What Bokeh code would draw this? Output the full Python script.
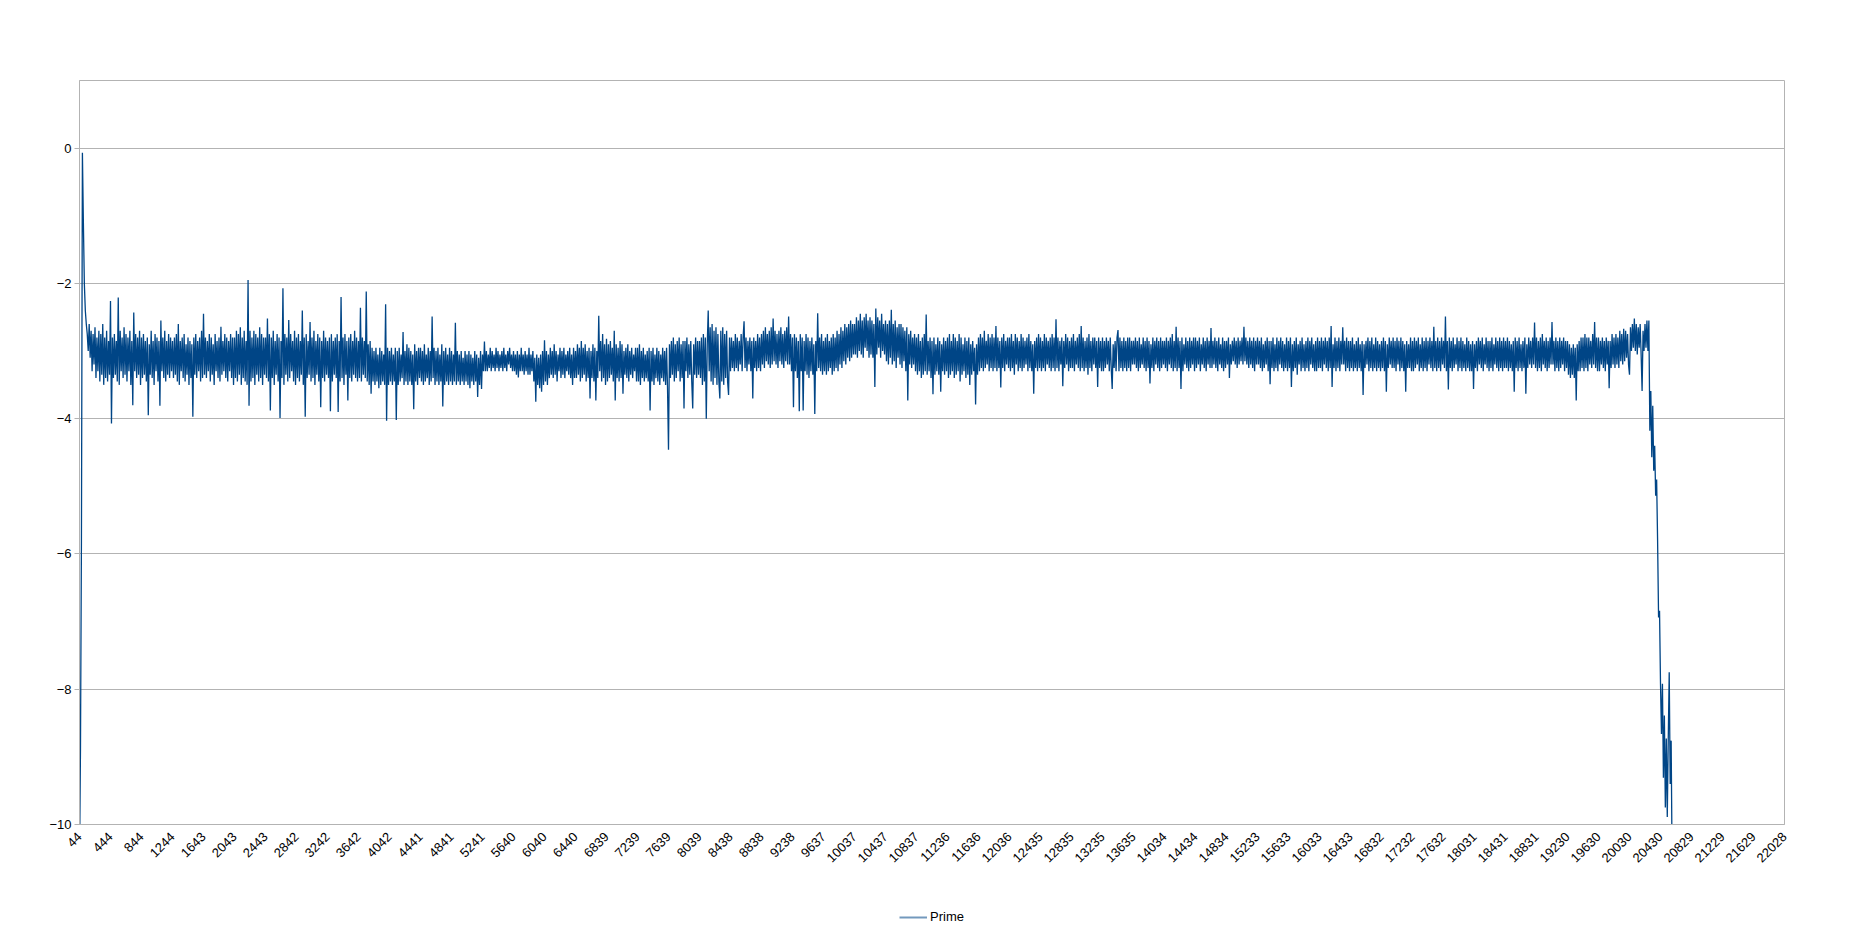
from math import pi
from bokeh.plotting import figure
from bokeh.layouts import column
from bokeh.models import FixedTicker, Range1d, Legend, LegendItem
from bokeh.embed import file_html
from bokeh.resources import INLINE

# category labels shown on the x axis (one every 400 categories)
x_labels = ["44", "444", "844", "1244", "1643", "2043", "2443", "2842", "3242", "3642",
            "4042", "4441", "4841", "5241", "5640", "6040", "6440", "6839", "7239", "7639",
            "8039", "8438", "8838", "9238", "9637", "10037", "10437", "10837", "11236", "11636",
            "12036", "12435", "12835", "13235", "13635", "14034", "14434", "14834", "15233", "15633",
            "16033", "16433", "16832", "17232", "17632", "18031", "18431", "18831", "19230", "19630",
            "20030", "20430", "20829", "21229", "21629", "22028"]
label_every = 400       # categories between two axis labels
sample_every = 12.5     # categories between two read-off values
y_ticks = [-10, -8, -6, -4, -2, 0]
series_name = "Prime"

# "Prime" series (one value every 12.5 categories)
prime_a = [
    -10.6, -8.9, -5.8, -0.07, -1.1, -2.0, -2.4, -2.6, -2.75, -3.0, -2.6, -3.1, -2.7, -3.3, -2.75, -3.2,
    -2.65, -3.4, -2.8, -3.3, -2.7, -3.45, -2.75, -3.35, -2.6, -3.5, -2.8, -3.4, -2.7, -3.45, -2.85, -3.35,
    -2.26, -4.07, -2.8, -3.4, -2.75, -3.35, -2.85, -3.45, -2.21, -3.5, -2.7, -3.3, -2.8, -3.4, -2.65, -3.35,
    -2.75, -3.45, -2.8, -3.3, -2.7, -3.5, -2.85, -3.8, -2.43, -3.3, -2.75, -3.4, -2.8, -3.35, -2.7, -3.5,
    -2.8, -3.4, -2.75, -3.35, -2.85, -3.45, -2.8, -3.95, -2.9, -3.35, -2.7, -3.4, -2.85, -3.5, -2.75, -3.3,
    -2.8, -3.45, -2.85, -3.81, -2.55, -3.3, -2.8, -3.4, -2.7, -3.45, -2.85, -3.35, -2.75, -3.4, -2.8, -3.3,
    -2.85, -3.4, -2.8, -3.35, -2.75, -3.45, -2.6, -3.5, -2.85, -3.3, -2.8, -3.4, -2.75, -3.45, -2.9, -3.35,
    -2.8, -3.5, -2.85, -3.4, -2.9, -3.97, -2.8, -3.35, -2.75, -3.4, -2.85, -3.3, -2.8, -3.45, -2.7, -3.4,
    -2.45, -3.35, -2.8, -3.4, -2.85, -3.3, -2.75, -3.45, -2.8, -3.35, -2.9, -3.5, -2.75, -3.3, -2.85, -3.4,
    -2.8, -3.45, -2.64, -3.35, -2.85, -3.3, -2.75, -3.4, -2.8, -3.45, -2.85, -3.3, -2.75, -3.4, -2.8, -3.5,
    -2.8, -3.4, -2.7, -3.45, -2.75, -3.35, -2.65, -3.5, -2.8, -3.4, -2.7, -3.45, -2.85, -3.5, -1.95, -3.81,
    -2.7, -3.45, -2.8, -3.4, -2.7, -3.5, -2.75, -3.35, -2.8, -3.45, -2.65, -3.4, -2.75, -3.5, -2.8, -3.35,
    -2.8, -3.4, -2.52, -3.45, -2.75, -3.88, -2.8, -3.4, -2.7, -3.5, -2.85, -3.35, -2.75, -3.45, -2.8, -3.99,
    -2.85, -3.4, -2.07, -3.5, -2.75, -3.35, -2.8, -3.45, -2.54, -3.4, -2.75, -3.3, -2.85, -3.45, -2.7, -3.5,
    -2.8, -3.4, -2.75, -3.45, -2.85, -3.35, -2.4, -3.5, -2.8, -3.97, -2.75, -3.4, -2.85, -3.35, -2.57, -3.45,
    -2.8, -3.4, -2.7, -3.5, -2.85, -3.35, -2.75, -3.45, -2.8, -3.83, -2.85, -3.4, -2.7, -3.45, -2.8, -3.35,
    -2.85, -3.4, -2.8, -3.89, -2.75, -3.45, -2.85, -3.35, -2.8, -3.4, -2.75, -3.9, -2.85, -3.45, -2.2, -3.4,
    -2.8, -3.5, -2.75, -3.35, -2.85, -3.73, -2.8, -3.4, -2.75, -3.45, -2.85, -3.35, -2.7, -3.4, -2.8, -3.45,
    -2.85, -3.4, -2.36, -3.45, -2.8, -3.35, -2.85, -3.4, -2.12, -3.45, -2.9, -3.5, -2.85, -3.63, -2.95, -3.45,
    -3.0, -3.5, -2.95, -3.45, -3.05, -3.55, -2.95, -3.5, -3.0, -3.45, -3.05, -3.5, -2.31, -4.03, -2.95, -3.5,
    -3.0, -3.45, -2.95, -3.5, -3.05, -3.45, -2.95, -4.02, -3.0, -3.5, -2.95, -3.45, -3.05, -3.4, -2.72, -3.5,
    -3.0, -3.45, -2.9, -3.5, -2.95, -3.45, -3.0, -3.5, -3.05, -3.86, -2.9, -3.45, -3.0, -3.5, -2.95, -3.4,
    -2.95, -3.45, -3.0, -3.5, -2.9, -3.45, -3.05, -3.4, -2.95, -3.5, -3.0, -3.45, -2.49, -3.4, -2.95, -3.5,
    -3.0, -3.45, -2.95, -3.5, -3.05, -3.45, -2.9, -3.82, -3.0, -3.5, -2.95, -3.45, -3.05, -3.5, -2.95, -3.45,
    -3.0, -3.5, -3.05, -3.45, -2.58, -3.5, -3.0, -3.45, -3.05, -3.5, -3.0, -3.45, -3.1, -3.5, -3.0, -3.45,
    -3.05, -3.5, -3.0, -3.55, -3.05, -3.45, -3.1, -3.5, -3.0, -3.45, -3.05, -3.68, -3.1, -3.5, -3.0, -3.56,
]
prime_b = [
    -3.05, -3.3, -2.86, -3.3, -3.0, -3.3, -3.05, -3.25, -2.95, -3.3, -3.0, -3.25, -3.05, -3.3, -2.95, -3.25,
    -3.0, -3.3, -3.05, -3.25, -3.0, -3.3, -2.95, -3.25, -3.05, -3.3, -3.0, -3.2, -2.95, -3.25, -3.05, -3.3,
    -3.0, -3.3, -3.05, -3.35, -3.0, -3.39, -3.05, -3.3, -2.95, -3.3, -3.05, -3.35, -3.0, -3.3, -3.05, -3.35,
    -2.95, -3.35, -3.05, -3.3, -3.0, -3.45, -3.1, -3.75, -3.05, -3.5, -3.1, -3.55, -3.05, -3.6, -3.0, -3.5,
    -2.84, -3.45, -3.0, -3.5, -3.05, -3.4, -2.95, -3.35, -3.0, -3.4, -2.9, -3.35, -3.0, -3.45, -3.05, -3.3,
    -2.95, -3.4, -3.0, -3.35, -2.95, -3.4, -3.05, -3.3, -3.0, -3.35, -2.95, -3.4, -3.05, -3.5, -2.95, -3.4,
    -3.0, -3.4, -2.9, -3.35, -2.95, -3.45, -2.85, -3.4, -2.95, -3.35, -2.9, -3.45, -3.0, -3.4, -2.95, -3.7,
    -3.0, -3.4, -2.9, -3.45, -2.95, -3.73, -3.0, -3.4, -2.48, -3.3, -2.85, -3.45, -2.75, -3.4, -2.9, -3.5,
    -2.82, -3.45, -2.9, -3.4, -2.85, -3.35, -2.95, -3.45, -2.7, -3.73, -2.9, -3.4, -2.95, -3.45, -2.85, -3.4,
    -2.9, -3.63, -3.0, -3.35, -2.95, -3.4, -2.9, -3.45, -3.0, -3.35, -2.95, -3.4, -3.05, -3.3, -2.95, -3.45,
    -2.95, -3.45, -2.9, -3.5, -3.0, -3.4, -2.95, -3.45, -3.05, -3.4, -3.0, -3.45, -2.95, -3.88, -3.0, -3.45,
    -2.95, -3.5, -3.05, -3.4, -2.95, -3.45, -3.0, -3.5, -3.05, -3.4, -2.95, -3.45, -3.0, -3.5, -2.95, -3.55,
    -4.46, -2.9, -3.4, -2.85, -3.35, -2.8, -3.45, -2.9, -3.4, -2.85, -3.3, -2.8, -3.45, -2.9, -3.4, -2.85,
    -3.85, -2.85, -3.3, -2.8, -3.4, -2.9, -3.35, -2.85, -3.45, -3.85, -2.9, -3.35, -2.8, -3.4, -2.85, -3.35,
    -2.85, -3.4, -2.8, -3.5, -2.75, -3.45, -2.8, -4.0, -2.9, -2.4, -3.3, -2.65, -3.45, -2.6, -3.5, -2.7,
    -3.4, -2.65, -3.5, -2.75, -3.45, -3.7, -2.7, -3.45, -2.65, -3.5, -2.75, -3.4, -2.7, -3.45, -3.65, -2.8,
    -3.3, -2.8, -3.25, -2.85, -3.3, -2.75, -3.25, -2.8, -3.3, -2.85, -3.2, -2.75, -3.3, -2.8, -2.56, -3.25,
    -2.8, -3.3, -2.85, -3.2, -2.8, -3.3, -2.85, -3.7, -2.8, -3.25, -2.85, -3.3, -2.75, -3.25, -2.8, -3.3,
    -2.75, -3.2, -2.7, -3.25, -2.65, -3.15, -2.75, -3.2, -2.7, -3.25, -2.65, -3.2, -2.52, -3.15, -2.7, -3.2,
    -2.75, -3.25, -2.7, -3.15, -2.65, -3.2, -2.75, -3.25, -2.7, -3.15, -2.65, -3.2, -2.49, -3.2, -2.75, -3.3,
    -2.8, -3.83, -2.75, -3.3, -2.8, -3.4, -2.85, -3.89, -2.75, -3.3, -2.8, -3.88, -2.85, -3.3, -2.75, -3.35,
    -2.8, -3.4, -2.85, -3.3, -2.8, -3.35, -2.9, -3.93, -2.85, -3.3, -2.44, -3.25, -2.8, -3.3, -2.75, -3.35,
    -2.85, -3.3, -2.8, -3.35, -2.75, -3.3, -2.85, -3.25, -2.8, -3.35, -2.75, -3.3, -2.8, -3.25, -2.7, -3.3,
    -2.75, -3.2, -2.65, -3.25, -2.7, -3.15, -2.6, -3.2, -2.65, -3.1, -2.6, -3.15, -2.55, -3.1, -2.6, -3.05,
    -2.6, -3.05, -2.5, -3.1, -2.55, -3.0, -2.45, -3.05, -2.55, -3.1, -2.5, -2.95, -2.45, -3.0, -2.55, -3.1,
    -2.5, -3.05, -2.55, -3.1, -2.6, -3.53, -2.37, -3.05, -2.5, -2.95, -2.55, -3.1, -2.45, -3.0, -2.6, -3.05,
]
prime_c = [
    -2.55, -3.15, -2.6, -3.2, -2.55, -3.1, -2.39, -3.2, -2.6, -3.15, -2.55, -3.25, -2.65, -3.1, -2.6, -3.2,
    -2.6, -3.25, -2.65, -3.15, -2.7, -3.3, -2.65, -3.73, -2.75, -3.2, -2.7, -3.25, -2.8, -3.2, -2.75, -3.3,
    -2.8, -3.35, -2.75, -3.3, -2.85, -3.4, -2.8, -3.35, -2.75, -3.3, -2.46, -3.35, -2.85, -3.3, -2.8, -3.4,
    -2.85, -3.64, -2.8, -3.35, -2.9, -3.3, -2.8, -3.35, -2.85, -3.6, -2.9, -3.3, -2.8, -3.35, -2.85, -3.3,
    -2.8, -3.4, -2.75, -3.35, -2.85, -3.3, -2.75, -3.4, -2.8, -3.35, -2.85, -3.3, -2.75, -3.45, -2.8, -3.35,
    -2.9, -3.3, -2.8, -3.4, -2.85, -3.35, -2.8, -3.5, -2.9, -3.35, -2.85, -3.3, -2.95, -3.79, -2.9, -3.35,
    -2.8, -3.3, -2.75, -3.25, -2.8, -3.3, -2.7, -3.25, -2.85, -3.2, -2.75, -3.3, -2.8, -3.25, -2.75, -3.3,
    -2.8, -3.25, -2.63, -3.3, -2.8, -3.25, -2.85, -3.54, -2.8, -3.25, -2.75, -3.3, -2.85, -3.2, -2.8, -3.25,
    -2.8, -3.3, -2.75, -3.25, -2.85, -3.35, -2.75, -3.2, -2.8, -3.3, -2.85, -3.25, -2.75, -3.3, -2.8, -3.25,
    -2.85, -3.2, -2.8, -3.3, -2.75, -3.25, -2.85, -3.3, -2.9, -3.63, -2.85, -3.25, -2.8, -3.3, -2.75, -3.25,
    -2.8, -3.3, -2.85, -3.25, -2.75, -3.3, -2.8, -3.2, -2.85, -3.25, -2.8, -3.3, -2.75, -3.25, -2.8, -3.3,
    -2.53, -3.25, -2.8, -3.3, -2.85, -3.2, -2.8, -3.52, -2.85, -3.25, -2.75, -3.2, -2.8, -3.3, -2.85, -3.25,
    -2.8, -3.25, -2.75, -3.3, -2.85, -3.2, -2.8, -3.25, -2.75, -3.3, -2.63, -3.25, -2.8, -3.3, -2.85, -3.25,
    -2.8, -3.35, -2.75, -3.25, -2.85, -3.3, -2.8, -3.2, -2.8, -3.25, -2.85, -3.53, -2.8, -3.25, -2.85, -3.3,
    -2.8, -3.3, -2.85, -3.25, -2.8, -3.2, -2.85, -3.3, -2.8, -3.25, -3.56, -2.9, -3.25, -2.85, -3.3, -2.8,
    -2.69, -3.3, -2.8, -3.25, -2.85, -3.3, -2.8, -3.25, -2.85, -3.3, -2.8, -3.25, -2.8, -3.3, -2.85, -3.2,
    -2.85, -3.2, -2.8, -3.25, -2.85, -3.3, -2.8, -3.25, -2.9, -3.2, -2.8, -3.25, -2.85, -3.3, -2.8, -3.25,
    -2.85, -3.48, -2.9, -3.25, -2.8, -3.3, -2.85, -3.2, -2.8, -3.25, -2.85, -3.3, -2.8, -3.25, -2.85, -3.2,
    -2.85, -3.25, -2.8, -3.3, -2.85, -3.2, -2.8, -3.25, -2.75, -3.3, -2.85, -3.25, -2.64, -3.3, -2.8, -3.25,
    -2.85, -3.56, -2.8, -3.3, -2.9, -3.2, -2.8, -3.25, -2.85, -3.3, -2.8, -3.25, -2.85, -3.2, -2.8, -3.3,
    -2.8, -3.25, -2.85, -3.2, -2.8, -3.3, -2.9, -3.2, -2.8, -3.25, -2.85, -3.3, -2.8, -3.2, -2.85, -3.25,
    -2.66, -3.25, -2.85, -3.2, -2.8, -3.25, -2.85, -3.3, -2.8, -3.2, -2.9, -3.25, -2.8, -3.3, -2.85, -3.25,
    -2.85, -3.2, -2.8, -3.4, -2.9, -3.2, -2.85, -3.15, -2.8, -3.2, -2.85, -3.25, -2.8, -3.2, -2.85, -3.15,
    -2.8, -3.2, -2.64, -3.15, -2.8, -3.2, -2.85, -3.25, -2.8, -3.2, -2.85, -3.25, -2.8, -3.3, -2.85, -3.2,
    -2.8, -3.2, -2.85, -3.25, -2.8, -3.3, -2.9, -3.25, -2.85, -3.2, -2.8, -3.3, -2.85, -3.49, -2.85, -3.25,
    -2.8, -3.3, -2.9, -3.25, -2.8, -3.3, -2.85, -3.2, -2.8, -3.25, -2.85, -3.3, -2.9, -3.25, -2.8, -3.3,
]
prime_d = [
    -2.85, -3.25, -2.8, -3.53, -2.9, -3.3, -2.85, -3.25, -2.8, -3.35, -2.9, -3.2, -2.85, -3.3, -2.8, -3.25,
    -2.9, -3.3, -2.85, -3.25, -2.8, -3.3, -2.85, -3.2, -2.8, -3.25, -2.9, -3.3, -2.85, -3.3, -2.8, -3.25,
    -2.85, -3.25, -2.8, -3.3, -2.85, -3.2, -2.8, -3.25, -2.85, -3.3, -2.8, -3.25, -2.63, -3.53, -2.9, -3.25,
    -2.8, -3.3, -2.85, -3.25, -2.8, -3.3, -2.85, -3.2, -2.65, -3.2, -2.85, -3.3, -2.8, -3.25, -2.85, -3.3,
    -2.85, -3.25, -2.8, -3.3, -2.9, -3.25, -2.85, -3.3, -2.8, -3.25, -2.9, -3.3, -2.85, -3.65, -2.9, -3.25,
    -2.85, -3.2, -2.8, -3.3, -2.85, -3.25, -2.8, -3.3, -2.9, -3.25, -2.8, -3.3, -2.85, -3.25, -2.9, -3.3,
    -2.85, -3.25, -2.8, -3.3, -2.85, -3.6, -2.9, -3.25, -2.8, -3.2, -2.85, -3.25, -2.8, -3.25, -2.85, -3.3,
    -2.8, -3.2, -2.85, -3.3, -2.8, -3.25, -2.85, -3.3, -2.9, -3.6, -2.85, -3.25, -2.9, -3.25, -2.8, -3.3,
    -2.85, -3.3, -2.8, -3.25, -2.85, -3.2, -2.8, -3.3, -2.9, -3.25, -2.8, -3.3, -2.85, -3.25, -2.8, -3.3,
    -2.85, -3.2, -2.8, -3.25, -2.85, -3.3, -2.64, -3.25, -2.85, -3.3, -2.8, -3.25, -2.85, -3.3, -2.8, -3.2,
    -2.85, -3.25, -2.49, -3.3, -2.85, -3.57, -2.8, -3.25, -2.85, -3.3, -2.8, -3.25, -2.9, -3.2, -2.8, -3.3,
    -2.85, -3.25, -2.8, -3.3, -2.85, -3.25, -2.9, -3.3, -2.8, -3.25, -2.85, -3.3, -2.9, -3.3, -2.85, -3.56,
    -2.9, -3.25, -2.85, -3.3, -2.8, -3.2, -2.85, -3.25, -2.8, -3.3, -2.9, -3.2, -2.8, -3.25, -2.85, -3.3,
    -2.85, -3.25, -2.8, -3.3, -2.9, -3.2, -2.8, -3.25, -2.85, -3.3, -2.8, -3.25, -2.85, -3.3, -2.8, -3.25,
    -2.85, -3.25, -2.8, -3.3, -2.85, -3.25, -2.9, -3.3, -2.85, -3.6, -2.8, -3.25, -2.85, -3.3, -2.8, -3.25,
    -2.9, -3.3, -2.85, -3.25, -2.8, -3.63, -2.9, -3.25, -2.8, -3.2, -2.85, -3.25, -2.8, -3.2, -2.58, -3.25,
    -2.8, -3.3, -2.85, -3.25, -2.8, -3.3, -2.75, -3.2, -2.85, -3.25, -2.8, -3.3, -2.85, -3.25, -2.8, -3.2,
    -2.57, -3.2, -2.85, -3.3, -2.8, -3.25, -2.85, -3.3, -2.8, -3.25, -2.85, -3.2, -2.8, -3.3, -2.85, -3.25,
    -2.85, -3.35, -2.9, -3.4, -2.95, -3.35, -2.9, -3.4, -2.95, -3.73, -2.9, -3.3, -2.85, -3.3, -2.8, -3.25,
    -2.8, -3.3, -2.75, -3.25, -2.8, -3.3, -2.8, -3.2, -2.85, -3.25, -2.75, -3.2, -2.57, -3.25, -2.8, -3.3,
    -2.8, -3.3, -2.85, -3.2, -2.8, -3.25, -2.85, -3.3, -2.8, -3.2, -2.85, -3.55, -2.85, -3.25, -2.75, -3.2,
    -2.8, -3.25, -2.75, -3.2, -2.8, -3.25, -2.7, -3.15, -2.75, -3.2, -2.67, -3.15, -2.7, -3.1, -2.75, -3.2,
]
prime_e = [
    -3.35, -2.65, -3.0, -2.6, -2.95, -2.52, -3.0, -2.6, -3.05, -2.65, -2.95, -2.6, -3.05, -3.59, -2.7, -3.0,
    -2.6, -2.95, -2.55, -3.0, -2.55, -4.18, -3.59, -4.57, -3.81, -4.77, -4.4, -5.14, -4.9, -5.8, -6.94, -6.84,
    -7.92, -8.66, -7.92, -9.31, -8.39, -9.75, -8.73, -9.89, -8.74, -7.75, -9.4, -8.76, -10.6,
]

prime = prime_a + prime_b + prime_c + prime_d + prime_e
category = [i * sample_every for i in range(len(prime))]

FONT = "Liberation Sans"
GRID = "#b3b3b3"
LINE = "#004586"
x_span = Range1d(0, label_every * (len(x_labels) - 1))

p = figure(frame_width=1705, frame_height=744,
           min_border_left=79, min_border_right=61, min_border_top=80, min_border_bottom=80,
           x_range=x_span, y_range=Range1d(-10, 1),
           output_backend="svg", toolbar_location=None,
           background_fill_color="white", border_fill_color="white")

p.line(category, prime, line_color=LINE, line_width=1.3)

p.outline_line_color = GRID
p.outline_line_width = 1

# y axis
p.yaxis.ticker = FixedTicker(ticks=y_ticks)
p.yaxis.axis_line_color = GRID
p.yaxis.major_tick_line_color = GRID
p.yaxis.major_tick_out = 5
p.yaxis.major_tick_in = 0
p.yaxis.minor_tick_line_color = None
p.yaxis.major_label_standoff = 3
p.yaxis.major_label_text_font = FONT
p.yaxis.major_label_text_font_size = "13px"
p.yaxis.major_label_text_color = "black"

# x axis
tick_pos = [k * label_every for k in range(len(x_labels))]
p.xaxis.ticker = FixedTicker(ticks=tick_pos)
p.xaxis.major_label_overrides = {t: lab for t, lab in zip(tick_pos, x_labels)}
p.xaxis.major_label_orientation = pi / 4
p.xaxis.axis_line_color = GRID
p.xaxis.major_tick_line_color = None
p.xaxis.minor_tick_line_color = None
p.xaxis.major_tick_out = 0
p.xaxis.major_tick_in = 0
p.xaxis.major_label_standoff = 10
p.xaxis.major_label_text_font = FONT
p.xaxis.major_label_text_font_size = "13px"
p.xaxis.major_label_text_color = "black"

# grid
p.xgrid.grid_line_color = None
p.ygrid.ticker = FixedTicker(ticks=y_ticks)
p.ygrid.grid_line_color = GRID
p.ygrid.grid_line_width = 1

# legend strip under the chart (its frame lines up with the chart frame);
# the series is drawn here only to give the legend key, and lies outside this strip's range
lf = figure(width=1845, height=24, min_border=0, x_range=Range1d(0, label_every * (len(x_labels) - 1)),
            y_range=Range1d(0, 1), output_backend="svg", toolbar_location=None,
            background_fill_color="white", border_fill_color="white")
lf.axis.visible = False
lf.grid.visible = False
lf.outline_line_color = None
key = lf.line(category, prime, line_color=LINE, line_width=2, line_alpha=0.55)
legend = Legend(items=[LegendItem(label=series_name, renderers=[key])],
                location=(820, 4), orientation="horizontal",
                glyph_width=28, glyph_height=14, label_height=14, label_standoff=3,
                padding=0, margin=0, spacing=0,
                border_line_color=None, background_fill_alpha=0,
                label_text_font=FONT, label_text_font_size="13px",
                label_text_color="black")
lf.add_layout(legend)

layout = column(p, lf, spacing=0)
open("out.html", "w").write(file_html(layout, INLINE))
